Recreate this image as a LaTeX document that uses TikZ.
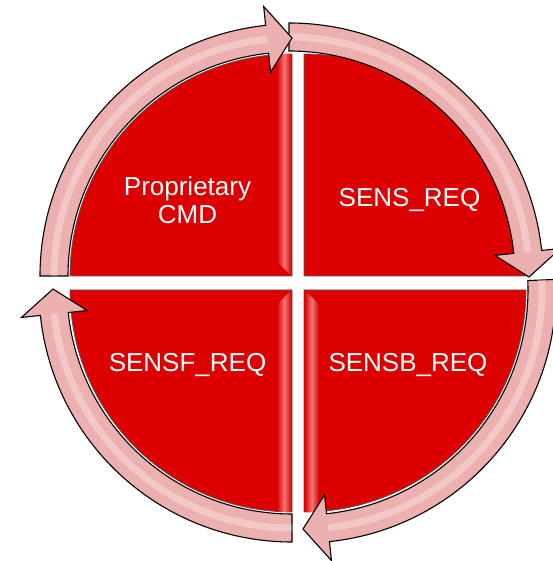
\documentclass[tikz,border=0pt]{standalone}
\usepackage{fontspec}
\setmainfont{Liberation Sans}
\definecolor{qred}{RGB}{221,0,0}
\definecolor{qhi}{RGB}{242,120,120}
\definecolor{bandpink}{RGB}{237,176,176}
\newcommand\cyclearrow[4]{%
  \begin{scope}[shift={#1}]
    \pgfmathsetmacro\ah{#4+6}
    \pgfmathsetmacro\ro{#2+14}
    \pgfmathsetmacro\ri{#2-14}
    \pgfmathsetmacro\wo{#2+33}
    \pgfmathsetmacro\wi{#2-33}
    \draw[bandstyle] (#3:\ro) arc[start angle=#3, end angle=\ah, radius=\ro]
      -- (\ah:\wo) -- (#4:#2) -- (\ah:\wi) -- (\ah:\ri)
      arc[start angle=\ah, end angle=#3, radius=\ri] -- cycle;
    \draw[sheen] (#3:#2) arc[start angle=#3, end angle=\ah, radius=#2];
  \end{scope}}
\begin{document}
\begin{tikzpicture}[x=1pt,y=1pt,
  quad/.style={fill=qred, draw=black!65, line width=0.7pt},
  bevel/.style={left color=qred, right color=qred, middle color=qhi},
  bandstyle/.style={fill=bandpink, draw=black, line width=1.1pt, line join=miter},
  sheen/.style={draw=white, opacity=0.3, line width=7pt},
  lbl/.style={text=white, font=\fontsize{26}{28}\selectfont, align=center, inner sep=0pt}]
\useasboundingbox (0,0) rectangle (552,561);
% quadrants
\path[quad] (292,285) -- (70,285) arc[start angle=180, end angle=90, radius=222] -- cycle;
\path[quad] (304,285) -- (304,507) arc[start angle=90, end angle=0, radius=222] -- cycle;
\path[quad] (292,271) -- (292,49) arc[start angle=-90, end angle=-180, radius=222] -- cycle;
\path[quad] (304,271) -- (526,271) arc[start angle=0, end angle=-90, radius=222] -- cycle;
% bevels
\begin{scope}
  \clip (292,285) -- (70,285) arc[start angle=180, end angle=90, radius=222] -- cycle;
  \shade[bevel] (277,299) -- (277,510) -- (291.3,510) -- (291.3,285.7) -- cycle;
\end{scope}
\begin{scope}
  \clip (292,271) -- (292,49) arc[start angle=-90, end angle=-180, radius=222] -- cycle;
  \shade[bevel] (277,257) -- (277,45) -- (291.3,45) -- (291.3,270.3) -- cycle;
\end{scope}
\begin{scope}
  \clip (304,271) -- (526,271) arc[start angle=0, end angle=-90, radius=222] -- cycle;
  \shade[bevel] (304.7,270.3) -- (304.7,45) -- (319,45) -- (319,257) -- cycle;
\end{scope}
% cycle arrows
\cyclearrow{(289,284)}{240}{90}{0}
\cyclearrow{(303,271)}{239}{2.4}{-90}
\cyclearrow{(292,272)}{239}{-90}{-180}
\cyclearrow{(292,285)}{238}{180}{90}
% labels
\node[lbl] (tl) at (187.5,361) {Proprietary\\CMD};
\node[lbl, anchor=base] (tr) at (409.5,354) {SENS\_REQ};
\node[lbl, anchor=base] (bl) at (187.5,189) {SENSF\_REQ};
\node[lbl, anchor=base] (br) at (408,189) {SENSB\_REQ};
\end{tikzpicture}
\end{document}
